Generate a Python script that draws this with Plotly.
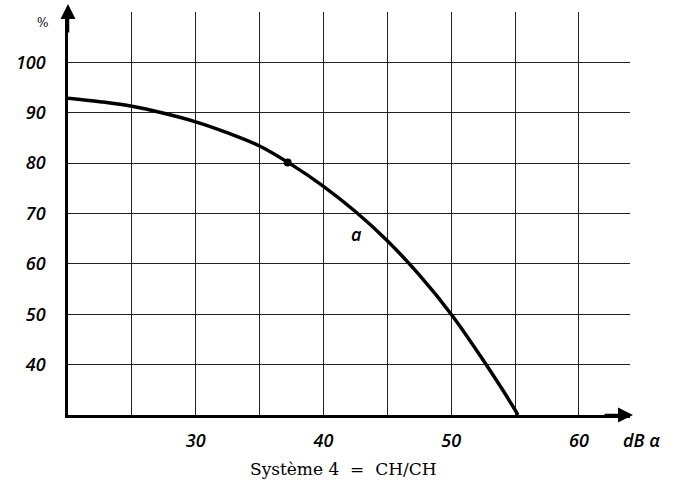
import plotly.graph_objects as go

# Data
db_values = [20, 22.5, 25, 27.5, 30, 32.5, 35, 37.5, 40, 42.5, 45, 47.5, 50, 52.5, 55, 55.22]
pct_values = [92.9, 92.2, 91.3, 89.9, 88.2, 86.0, 83.4, 79.7, 75.4, 70.4, 64.6, 57.8, 50.0, 40.9, 31.0, 30.0]
marker_db = [37.2]
marker_pct = [80.1]
x_tickvals = [25, 30, 35, 40, 45, 50, 55, 60]
x_ticktext = ["", "30", "", "40", "", "50", "", "60"]
y_tickvals = [40, 50, 60, 70, 80, 90, 100]
y_ticktext = ["40", "50", "60", "70", "80", "90", "100"]
curve_label = "a"
curve_label_pos = (42.6, 66)

tickfont = dict(family="Open Sans", size=18, color="black", style="italic", weight=600)

L, R, T, B = 68, 51, 12, 78
PW, PH = 681 - L - R, 493 - T - B


def px(xp):
    return (xp - L) / PW


def py(yp):
    return (493 - B - yp) / PH


fig = go.Figure()
fig.add_trace(go.Scatter(x=db_values, y=pct_values, mode="lines",
                         line=dict(color="black", width=3.5, shape="spline", smoothing=1.0),
                         hoverinfo="skip", showlegend=False))
fig.add_trace(go.Scatter(x=marker_db, y=marker_pct, mode="markers",
                         marker=dict(color="black", size=8), showlegend=False))

fig.update_layout(
    width=681, height=493,
    margin=dict(l=L, r=R, t=T, b=B),
    paper_bgcolor="white", plot_bgcolor="white",
    xaxis=dict(range=[20, 64], tickvals=x_tickvals, ticktext=x_ticktext,
               showgrid=True, gridcolor="#222", gridwidth=1,
               showline=True, linecolor="black", linewidth=2.5,
               zeroline=False, ticks="", tickfont=tickfont, ticklabelstandoff=8),
    yaxis=dict(range=[30, 110], tickvals=y_tickvals, ticktext=y_ticktext,
               showgrid=True, gridcolor="#222", gridwidth=1,
               showline=True, linecolor="black", linewidth=2.5,
               zeroline=False, ticks="", tickfont=tickfont, ticklabelstandoff=16),
)

# axis arrowheads
fig.add_annotation(x=0, y=py(4), xref="paper", yref="paper", ax=0, ay=30,
                   showarrow=True, arrowhead=2, arrowsize=1.2, arrowwidth=2.5, arrowcolor="black", text="")
fig.add_annotation(x=px(633), y=0, xref="paper", yref="paper", ax=-30, ay=0,
                   showarrow=True, arrowhead=2, arrowsize=1.2, arrowwidth=2.5, arrowcolor="black", text="")

fig.add_annotation(x=curve_label_pos[0], y=curve_label_pos[1], text=curve_label, showarrow=False,
                   font=dict(family="Open Sans", size=18, color="black", style="italic", weight=600))
fig.add_annotation(x=px(42), y=py(23), xref="paper", yref="paper", xanchor="center", yanchor="middle",
                   text="%", showarrow=False,
                   font=dict(family="DejaVu Serif", size=12, color="black"))
fig.add_annotation(x=px(641), y=py(440), xref="paper", yref="paper", xanchor="center", yanchor="middle",
                   text="dB α", showarrow=False,
                   font=dict(family="Open Sans", size=18, color="black", style="italic", weight=600))
fig.add_annotation(x=px(343), y=py(469), xref="paper", yref="paper", xanchor="center", yanchor="middle",
                   text="Système 4  =  CH/CH", showarrow=False,
                   font=dict(family="DejaVu Serif", size=17, color="black"))

fig.write_html("out.html")
